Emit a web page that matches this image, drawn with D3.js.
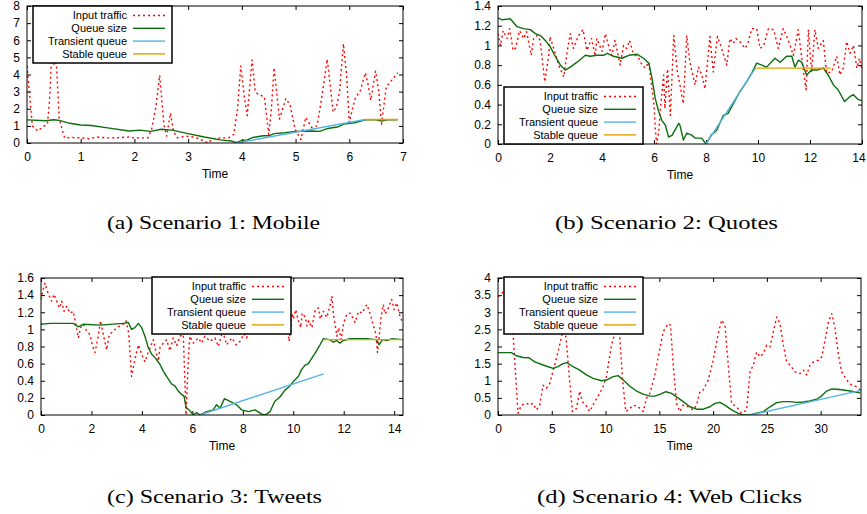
<!DOCTYPE html>
<html>
<head>
<meta charset="utf-8">
<script src="https://cdn.jsdelivr.net/npm/d3@7"></script>
<style>
  body { margin: 0; background: #fff; }
</style>
</head>
<body>
<svg id="chart" width="867" height="514" font-family="Liberation Sans, Arial, sans-serif"></svg>
<script>
// ---- data (time, value) ----
const seriesNames = ["Input traffic", "Queue size", "Transient queue", "Stable queue"];

// (a) Mobile
const mobileTraffic = [[0,4.5],[0.1,1.0],[0.2,0.7],[0.3,0.95],[0.38,1.1],[0.42,2.5],[0.46,5.2],[0.5,4.6],[0.54,5.1],[0.6,1.4],[0.7,0.3],[0.85,0.32],[1.0,0.3],[1.15,0.25],[1.3,0.35],[1.45,0.3],[1.6,0.3],[1.75,0.32],[1.9,0.35],[2.0,0.28],[2.1,0.3],[2.25,0.3],[2.32,0.8],[2.4,2.1],[2.47,3.95],[2.55,1.05],[2.6,0.4],[2.67,1.75],[2.73,0.65],[2.8,0.3],[2.95,0.4],[3.1,0.35],[3.2,0.25],[3.3,0.1],[3.38,0.0],[3.45,0.25],[3.6,0.3],[3.75,0.3],[3.85,0.5],[3.92,2.0],[3.98,4.5],[4.05,2.6],[4.1,1.6],[4.15,3.4],[4.19,4.85],[4.25,3.0],[4.3,2.85],[4.42,2.7],[4.5,0.5],[4.55,2.0],[4.6,4.4],[4.7,1.4],[4.76,2.0],[4.82,2.6],[4.9,2.2],[4.99,0.8],[5.1,0.2],[5.19,1.5],[5.3,0.9],[5.4,1.0],[5.48,2.5],[5.59,4.9],[5.7,1.8],[5.76,2.1],[5.82,3.0],[5.89,5.8],[5.95,4.0],[6.0,1.2],[6.06,2.0],[6.12,2.7],[6.2,3.0],[6.3,4.1],[6.35,3.4],[6.4,2.5],[6.49,4.2],[6.55,3.0],[6.6,1.1],[6.69,3.3],[6.8,3.7],[6.9,4.1]];
const mobileQueue = [[0,1.35],[0.35,1.3],[0.5,1.36],[0.6,1.32],[0.8,1.15],[1.0,1.05],[1.2,1.02],[1.5,0.88],[1.9,0.7],[2.1,0.75],[2.3,0.68],[2.5,0.8],[2.7,0.75],[3.0,0.55],[3.3,0.35],[3.6,0.18],[3.8,0.12],[3.9,0.02],[4.0,0.15],[4.1,0.18],[4.2,0.32],[4.4,0.42],[4.5,0.42],[4.6,0.55],[4.8,0.6],[5.0,0.68],[5.3,0.7],[5.45,0.68],[5.6,0.85],[5.8,0.95],[5.9,1.1],[6.1,1.18],[6.3,1.35],[6.5,1.35],[6.6,1.28],[6.7,1.35],[6.9,1.35]];
const mobileTransient = [[3.9,0],[6.3,1.37]];
const mobileStable = [[6.3,1.37],[6.9,1.37]];
const mobileXTicks = [0,1,2,3,4,5,6,7];
const mobileYTicks = [0,1,2,3,4,5,6,7,8];

// (b) Quotes
const quotesTraffic = [[0,1.12],[0.09,1.0],[0.2,1.15],[0.35,1.07],[0.45,1.17],[0.58,0.95],[0.67,0.97],[0.83,1.15],[0.99,1.07],[1.1,1.14],[1.28,0.9],[1.37,1.07],[1.5,1.1],[1.62,1.05],[1.8,0.63],[1.95,0.9],[2.0,1.09],[2.2,0.92],[2.33,0.8],[2.53,0.68],[2.65,0.92],[2.78,1.12],[2.9,0.97],[3.1,1.1],[3.27,1.16],[3.42,0.95],[3.6,1.07],[3.74,0.89],[3.8,1.07],[4.0,0.94],[4.13,1.12],[4.25,1.0],[4.38,0.9],[4.5,1.05],[4.7,0.8],[4.83,1.0],[4.95,0.97],[5.06,1.05],[5.2,0.92],[5.41,0.87],[5.54,0.8],[5.67,0.77],[5.8,0.83],[5.92,0.56],[6.0,0.4],[6.05,0.16],[6.1,0.0],[6.18,0.12],[6.25,0.36],[6.37,0.7],[6.42,0.36],[6.52,0.76],[6.63,0.29],[6.76,1.1],[6.9,0.73],[7.0,0.6],[7.06,0.5],[7.13,0.41],[7.26,1.1],[7.38,0.83],[7.58,0.6],[7.71,0.78],[7.84,0.7],[7.96,0.56],[8.15,1.09],[8.28,0.73],[8.44,1.09],[8.6,0.97],[8.8,0.8],[8.92,1.07],[9.05,1.02],[9.15,1.07],[9.3,1.04],[9.5,0.97],[9.62,1.03],[9.76,1.17],[9.95,1.17],[10.08,0.97],[10.22,1.0],[10.4,1.17],[10.6,1.16],[10.78,0.97],[10.97,1.17],[11.17,1.05],[11.36,0.9],[11.55,1.16],[11.74,0.75],[11.85,0.55],[11.94,1.16],[12.06,0.73],[12.19,1.16],[12.32,0.97],[12.51,1.05],[12.64,0.72],[12.83,0.73],[13.03,0.89],[13.15,0.7],[13.28,0.77],[13.41,1.04],[13.54,0.92],[13.67,1.0],[13.8,0.77],[13.9,0.87],[14,0.75]];
const quotesQueue = [[0,1.28],[0.15,1.26],[0.47,1.27],[0.73,1.19],[0.99,1.17],[1.24,1.16],[1.44,1.12],[1.63,1.1],[1.82,1.05],[2.0,0.99],[2.2,0.89],[2.4,0.8],[2.59,0.75],[2.78,0.78],[3.04,0.83],[3.36,0.9],[3.55,0.89],[3.8,0.9],[4.06,0.9],[4.2,0.92],[4.45,0.89],[4.77,0.87],[5.03,0.9],[5.35,0.91],[5.6,0.87],[5.8,0.82],[5.92,0.67],[6.05,0.46],[6.18,0.33],[6.3,0.24],[6.44,0.19],[6.56,0.07],[6.7,0.09],[6.95,0.21],[7.0,0.19],[7.13,0.04],[7.26,0.11],[7.45,0.09],[7.58,0.06],[7.83,0.06],[8.0,0.0],[8.2,0.09],[8.41,0.14],[8.67,0.29],[8.85,0.31],[9.05,0.41],[9.3,0.53],[9.56,0.63],[9.76,0.72],[9.95,0.82],[10.15,0.8],[10.33,0.78],[10.65,0.87],[10.85,0.83],[11.1,0.89],[11.3,0.89],[11.42,0.78],[11.55,0.85],[11.68,0.83],[11.87,0.7],[12.06,0.75],[12.26,0.75],[12.51,0.77],[12.7,0.7],[12.9,0.6],[13.08,0.55],[13.33,0.43],[13.53,0.48],[13.67,0.5],[13.86,0.45],[14,0.44]];
const quotesTransient = [[8.0,0],[9.9,0.77]];
const quotesStable = [[9.9,0.77],[12.8,0.77]];
const quotesXTicks = [0,2,4,6,8,10,12,14];
const quotesYTicks = [0,0.2,0.4,0.6,0.8,1,1.2,1.4];

// (c) Tweets
const tweetsTraffic = [[0,1.35],[0.09,1.47],[0.16,1.54],[0.22,1.47],[0.33,1.39],[0.42,1.33],[0.52,1.41],[0.62,1.33],[0.73,1.25],[0.82,1.33],[0.91,1.21],[1.02,1.27],[1.15,1.19],[1.28,1.21],[1.39,1.04],[1.48,0.9],[1.57,1.02],[1.68,1.06],[1.81,0.98],[1.94,0.94],[2.05,0.8],[2.14,0.73],[2.27,0.92],[2.36,1.1],[2.47,0.94],[2.6,0.76],[2.71,0.94],[2.87,0.98],[3.0,1.02],[3.13,1.04],[3.26,1.06],[3.37,1.1],[3.46,0.98],[3.5,0.86],[3.59,0.45],[3.72,0.65],[3.86,0.82],[3.99,0.71],[4.12,0.62],[4.25,0.73],[4.45,0.88],[4.55,0.75],[4.65,0.63],[4.72,0.79],[4.85,0.84],[4.98,0.88],[5.11,0.75],[5.24,0.9],[5.38,0.81],[5.51,0.92],[5.64,0.94],[5.75,0.0],[5.84,0.65],[5.9,0.92],[6.04,0.84],[6.24,0.9],[6.37,0.84],[6.5,0.92],[6.7,0.86],[6.9,0.9],[7.03,0.8],[7.2,0.98],[7.36,0.82],[7.57,0.9],[7.73,0.82],[7.89,0.86],[8.05,0.95],[8.15,0.9],[8.3,1.05],[8.5,1.12],[8.7,1.02],[8.9,1.1],[9.1,1.0],[9.3,1.08],[9.5,1.02],[9.7,1.1],[9.84,0.86],[9.95,1.19],[10.0,1.12],[10.1,1.23],[10.2,1.1],[10.3,1.02],[10.35,1.19],[10.48,1.14],[10.54,1.04],[10.62,1.1],[10.74,1.02],[10.87,1.23],[11.0,1.25],[11.07,1.12],[11.2,1.21],[11.33,1.14],[11.47,1.29],[11.53,1.39],[11.6,1.16],[11.67,1.04],[11.73,0.92],[11.8,1.02],[11.9,0.88],[12.0,1.08],[12.13,1.18],[12.26,1.19],[12.45,1.08],[12.59,1.21],[12.72,1.19],[12.92,1.29],[13.05,1.18],[13.18,1.04],[13.28,0.94],[13.34,0.73],[13.4,0.9],[13.48,1.14],[13.57,1.29],[13.64,1.18],[13.77,1.25],[13.9,1.35],[14.0,1.23],[14.1,1.31],[14.24,1.14],[14.35,1.08]];
const tweetsQueue = [[0,1.06],[0.36,1.07],[1.28,1.07],[1.48,1.03],[1.68,1.06],[2.34,1.05],[3.26,1.07],[3.46,1.08],[3.59,1.0],[3.72,1.02],[3.86,1.07],[3.99,1.02],[4.12,0.92],[4.25,0.79],[4.39,0.71],[4.52,0.67],[4.72,0.59],[4.85,0.51],[5.05,0.42],[5.18,0.36],[5.31,0.34],[5.44,0.28],[5.57,0.24],[5.67,0.22],[5.75,0.09],[5.9,0.05],[6.04,0.0],[6.17,0.03],[6.3,0.0],[6.57,0.04],[6.83,0.06],[6.96,0.12],[7.1,0.08],[7.27,0.19],[7.49,0.16],[7.75,0.12],[7.95,0.06],[8.22,0.04],[8.48,0.06],[8.75,0.01],[8.88,0.0],[9.08,0.04],[9.27,0.16],[9.47,0.21],[9.67,0.29],[9.84,0.33],[10.0,0.39],[10.2,0.45],[10.33,0.53],[10.46,0.58],[10.6,0.6],[10.73,0.66],[10.86,0.72],[11.06,0.82],[11.19,0.89],[11.45,0.88],[11.59,0.85],[11.72,0.87],[11.85,0.84],[11.98,0.87],[12.25,0.89],[12.9,0.89],[13.3,0.88],[13.4,0.82],[13.54,0.88],[13.7,0.87],[13.9,0.89],[14.35,0.88]];
const tweetsTransient = [[6.3,0],[11.2,0.48]];
const tweetsStable = [[11.2,0.88],[14.35,0.88]];
const tweetsXTicks = [0,2,4,6,8,10,12,14];
const tweetsYTicks = [0,0.2,0.4,0.6,0.8,1,1.2,1.4,1.6];

// (d) Web Clicks
const clicksTraffic = [[0,3.45],[0.5,3.6],[1.0,3.2],[1.4,2.38],[1.86,0.05],[2.17,0.29],[2.64,0.34],[2.95,0.29],[3.26,0.34],[3.57,0.15],[3.88,0.29],[4.19,0.87],[4.5,0.78],[4.81,0.92],[5.18,1.36],[5.58,1.84],[5.9,2.28],[6.15,2.6],[6.36,2.14],[6.67,0.97],[6.92,0.1],[7.29,0.19],[7.6,0.7],[7.85,0.39],[8.16,0.29],[8.53,0.1],[9.0,0.39],[9.46,0.63],[9.77,0.83],[10.08,1.12],[10.55,2.04],[10.86,2.38],[11.1,2.6],[11.32,2.28],[11.57,1.07],[11.88,0.1],[12.26,0.19],[12.57,0.29],[13.03,0.24],[13.5,0.1],[13.8,0.49],[14.12,0.63],[14.58,1.17],[14.99,1.84],[15.36,2.43],[15.82,2.67],[16.04,2.62],[16.29,1.46],[16.6,0.34],[16.91,0.1],[17.22,0.29],[17.69,0.24],[18.15,0.15],[18.46,0.29],[18.77,0.68],[19.08,0.73],[19.55,1.02],[20.01,1.6],[20.48,2.38],[20.79,2.77],[21.1,2.62],[21.41,1.46],[21.72,0.34],[22.18,0.24],[22.65,0.05],[23.12,0.15],[23.43,1.26],[23.74,1.46],[24.05,1.84],[24.36,1.7],[24.67,1.8],[24.98,2.04],[25.29,1.99],[25.6,2.43],[25.91,2.86],[26.22,2.67],[26.53,2.04],[26.84,1.55],[27.15,1.46],[27.61,1.26],[28.08,1.21],[28.39,1.31],[28.7,1.17],[29.01,1.46],[29.32,1.55],[29.79,1.6],[30.1,1.7],[30.41,2.18],[30.72,2.72],[31.03,2.96],[31.34,2.52],[31.65,1.75],[31.96,1.26],[32.42,1.02],[32.89,0.87],[33.35,0.83],[33.66,0.73]];
const clicksQueue = [[0,1.82],[1.24,1.82],[1.7,1.73],[2.33,1.68],[2.89,1.67],[3.41,1.55],[4.19,1.46],[5.12,1.36],[5.58,1.41],[6.05,1.5],[6.42,1.53],[6.98,1.41],[7.6,1.31],[8.22,1.17],[8.84,1.07],[9.62,1.0],[10.08,1.02],[10.7,1.12],[11.17,1.15],[11.64,1.02],[12.26,0.84],[12.88,0.7],[13.5,0.61],[14.12,0.55],[14.58,0.55],[15.05,0.6],[15.61,0.68],[16.13,0.63],[16.6,0.53],[17.22,0.39],[17.84,0.24],[18.46,0.17],[19.08,0.17],[19.7,0.24],[20.17,0.34],[20.63,0.37],[21.1,0.29],[21.72,0.15],[22.34,0.05],[22.8,0.0],[23.43,0.0],[24.05,0.05],[24.67,0.1],[25.29,0.24],[25.91,0.36],[26.53,0.39],[27.15,0.39],[27.77,0.37],[28.39,0.38],[29.01,0.41],[29.63,0.46],[30.1,0.56],[30.56,0.7],[31.03,0.76],[31.5,0.75],[32.12,0.73],[32.73,0.7],[33.66,0.65]];
const clicksTransient = [[23.5,0],[33.75,0.72]];
const clicksStable = [];
const clicksXTicks = [0,5,10,15,20,25,30];
const clicksYTicks = [0,0.5,1,1.5,2,2.5,3,3.5,4];

// ---- layout ----
const styles = [
  { color: "#ff0000", width: 1.4, dash: "2,3" },
  { color: "#0d6e0d", width: 1.4, dash: null },
  { color: "#56b4e9", width: 1.4, dash: null },
  { color: "#e69f00", width: 1.4, dash: null }
];

const panels = [
  { series: [mobileTraffic, mobileQueue, mobileTransient, mobileStable],
    frame: { l: 27, r: 403, t: 6, b: 143 }, xDomain: [0, 7], yDomain: [0, 8],
    xTicks: mobileXTicks, yTicks: mobileYTicks, legend: [33, 6],
    caption: "(a) Scenario 1: Mobile", capX: [107, 320], capY: 229 },
  { series: [quotesTraffic, quotesQueue, quotesTransient, quotesStable],
    frame: { l: 498, r: 862, t: 6, b: 144 }, xDomain: [0, 14], yDomain: [0, 1.4],
    xTicks: quotesXTicks, yTicks: quotesYTicks, legend: [504, 87],
    caption: "(b) Scenario 2: Quotes", capX: [555, 778], capY: 229 },
  { series: [tweetsTraffic, tweetsQueue, tweetsTransient, tweetsStable],
    frame: { l: 41, r: 403, t: 278, b: 415 }, xDomain: [0, 14.35], yDomain: [0, 1.6],
    xTicks: tweetsXTicks, yTicks: tweetsYTicks, legend: [152, 277],
    caption: "(c) Scenario 3: Tweets", capX: [107, 322], capY: 503 },
  { series: [clicksTraffic, clicksQueue, clicksTransient, clicksStable],
    frame: { l: 498, r: 861, t: 278, b: 415 }, xDomain: [0, 33.75], yDomain: [0, 4],
    xTicks: clicksXTicks, yTicks: clicksYTicks, legend: [504, 277],
    caption: "(d) Scenario 4: Web Clicks", capX: [537, 802], capY: 503 }
];

const svg = d3.select("#chart");
const fontSize = 12;
const legendFont = 11;
const legendStep = 12.8;
const W = 867;

panels.forEach((p, pi) => {
  const f = p.frame;
  const x = d3.scaleLinear().domain(p.xDomain).range([f.l, f.r]);
  const y = d3.scaleLinear().domain(p.yDomain).range([f.b, f.t]);
  const g = svg.append("g");

  // clip so lines stay in the frame
  const clipId = "clip" + pi;
  svg.append("clipPath").attr("id", clipId)
    .append("rect").attr("x", f.l).attr("y", f.t - 1)
    .attr("width", f.r - f.l).attr("height", f.b - f.t + 1);

  // ticks mirrored inside on all sides, like gnuplot
  const fmt = d => String(d);
  const axes = [
    g.append("g").attr("transform", `translate(0,${f.b})`)
      .call(d3.axisBottom(x).tickValues(p.xTicks).tickSize(-4).tickPadding(9).tickFormat(fmt)),
    g.append("g").attr("transform", `translate(${f.l},0)`)
      .call(d3.axisLeft(y).tickValues(p.yTicks).tickSize(-4).tickPadding(7).tickFormat(fmt)),
    g.append("g").attr("transform", `translate(0,${f.t})`)
      .call(d3.axisTop(x).tickValues(p.xTicks).tickSize(-4).tickFormat("")),
    g.append("g").attr("transform", `translate(${f.r},0)`)
      .call(d3.axisRight(y).tickValues(p.yTicks).tickSize(-4).tickFormat(""))
  ];
  axes.forEach(a => {
    a.attr("font-family", null).attr("font-size", null);
    a.select(".domain").remove();
    a.selectAll("line").attr("stroke", "#000");
    a.selectAll("text").attr("font-size", fontSize).attr("fill", "#000");
  });

  // keep the last x label inside the page
  axes[0].selectAll("text").each(function () {
    const b = this.getBBox();
    const tx = this.parentNode.transform.baseVal.consolidate().matrix.e;
    const over = tx + b.x + b.width - (W - 1);
    if (over > 0) d3.select(this).attr("x", -over);
  });

  // series
  const line = d3.line().x(d => x(d[0])).y(d => y(d[1]));
  const lines = g.append("g").attr("clip-path", `url(#${clipId})`);
  p.series.forEach((s, i) => {
    if (!s.length) return;
    const st = styles[i];
    lines.append("path").datum(s)
      .attr("d", line)
      .attr("fill", "none")
      .attr("stroke", st.color)
      .attr("stroke-width", st.width)
      .attr("stroke-dasharray", st.dash)
      .attr("stroke-linejoin", "round");
  });

  // frame
  g.append("rect").attr("x", f.l).attr("y", f.t)
    .attr("width", f.r - f.l).attr("height", f.b - f.t)
    .attr("fill", "none").attr("stroke", "#000").attr("stroke-width", 1);

  // x label
  g.append("text").attr("x", (f.l + f.r) / 2).attr("y", f.b + 35)
    .attr("text-anchor", "middle").attr("font-size", fontSize).text("Time");

  // legend
  const [lx, ly] = p.legend;
  const lg = g.append("g");
  lg.append("rect").attr("x", lx).attr("y", ly).attr("width", 139).attr("height", 57)
    .attr("fill", "#fff").attr("stroke", "#000").attr("stroke-width", 1.5);
  seriesNames.forEach((name, i) => {
    const yy = ly + 9.5 + i * legendStep;
    lg.append("text").attr("x", lx + 94).attr("y", yy).attr("dy", "0.35em")
      .attr("text-anchor", "end").attr("font-size", legendFont).text(name);
    lg.append("line").attr("x1", lx + 100).attr("x2", lx + 132)
      .attr("y1", yy).attr("y2", yy)
      .attr("stroke", styles[i].color).attr("stroke-width", styles[i].width)
      .attr("stroke-dasharray", styles[i].dash);
  });

  // caption
  svg.append("text").attr("x", p.capX[0]).attr("y", p.capY)
    .attr("font-family", "Liberation Serif, DejaVu Serif, serif").attr("font-size", 18)
    .attr("textLength", p.capX[1] - p.capX[0]).attr("lengthAdjust", "spacingAndGlyphs")
    .text(p.caption);
});
</script>
</body>
</html>
